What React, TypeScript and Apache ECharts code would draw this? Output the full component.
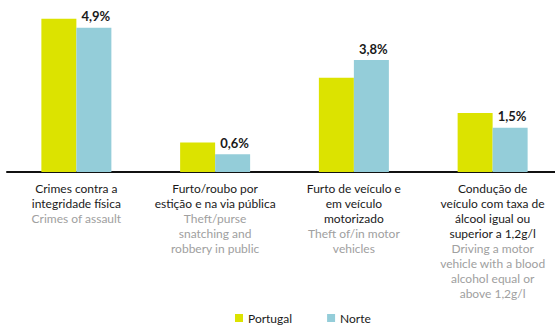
import React, { useEffect, useRef } from "react";
import * as echarts from "echarts";

const categoriesPt = [
  ["Crimes contra a", "integridade física"],
  ["Furto/roubo por", "estição e na via pública"],
  ["Furto de veículo e", "em veículo", "motorizado"],
  ["Condução de", "veículo com taxa de", "álcool igual ou", "superior a 1,2g/l"],
];
const categoriesEn = [
  ["Crimes of assault"],
  ["Theft/purse", "snatching and", "robbery in public"],
  ["Theft of/in motor", "vehicles"],
  ["Driving a motor", "vehicle with a blood", "alcohol equal or", "above 1,2g/l"],
];
const seriesNames = ["Portugal", "Norte"];
const portugalValues = [5.2, 1.0, 3.2, 2.0];
const norteValues = [4.9, 0.6, 3.8, 1.5];

const categoryKeys = categoriesPt.map((_, i) => "c" + i);

export default function App() {
  const ref = useRef<HTMLDivElement>(null);
  useEffect(() => {
    if (!ref.current) return;
    const chart = echarts.init(ref.current, null, { renderer: "svg" });
    const font = "Lato";
    chart.setOption({
      animation: false,
      textStyle: { fontFamily: font },
      grid: {
        left: 7,
        width: 555,
        top: 10,
        bottom: 155,
        containLabel: false,
        outerBoundsMode: "none",
      },
      legend: {
        data: seriesNames,
        left: 230,
        top: 309,
        padding: [2, 5, 2, 5],
        itemWidth: 8,
        itemHeight: 8,
        itemGap: 35,
        icon: "rect",
        textStyle: { fontFamily: font, fontSize: 12, lineHeight: 14, color: "#1a1a1a" },
      },
      xAxis: {
        type: "category",
        data: categoryKeys,
        axisLine: { lineStyle: { color: "#111", width: 2 } },
        axisTick: { show: false },
        axisLabel: {
          interval: 0,
          margin: 9,
          formatter: (v: string) => {
            const i = categoryKeys.indexOf(v);
            const a = categoriesPt[i].map((s) => "{a|" + s + "}");
            const b = categoriesEn[i].map((s) => "{b|" + s + "}");
            return a.concat(b).join("\n");
          },
          rich: {
            a: { fontFamily: font, fontSize: 12, lineHeight: 15, color: "#1a1a1a" },
            b: { fontFamily: font, fontSize: 12, lineHeight: 15, color: "#a0a0a0" },
          },
        },
      },
      yAxis: { type: "value", min: 0, max: 5.5, show: false, splitLine: { show: false } },
      series: [
        {
          name: seriesNames[0],
          type: "bar",
          data: portugalValues,
          barWidth: 35,
          barGap: "0%",
          itemStyle: { color: "#dce300" },
        },
        {
          name: seriesNames[1],
          type: "bar",
          data: norteValues,
          barWidth: 35,
          barGap: "0%",
          itemStyle: { color: "#94cdd9" },
          label: {
            show: true,
            position: "top",
            distance: 5,
            offset: [2, 0],
            fontFamily: font,
            fontSize: 13,
            fontWeight: "bold",
            color: "#1a1a1a",
            formatter: (p: any) => String(p.value).replace(".", ",") + "%",
          },
        },
      ],
    });
    return () => chart.dispose();
  }, []);
  return (
    <div
      ref={ref}
      style={{ position: "fixed", left: 0, top: 0, width: 555, height: 327, background: "#fff" }}
    />
  );
}
